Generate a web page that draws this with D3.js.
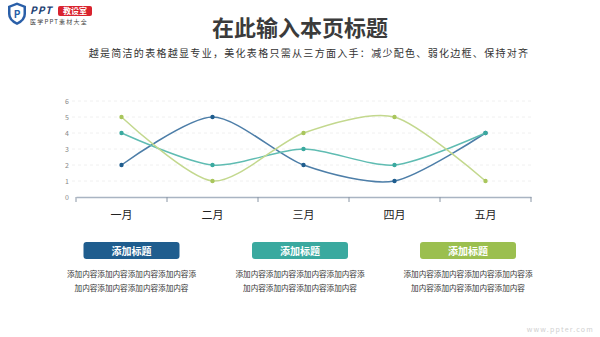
<!DOCTYPE html>
<html>
<head>
    <meta charset="utf-8">
    <title>在此输入本页标题</title>
    <script src="https://cdn.jsdelivr.net/npm/d3@7"></script>
    <style>
        body { margin: 0; background: #fff; }
        svg { font-family: "Noto Sans CJK SC", "Noto Sans", sans-serif; display: block; }
    </style>
</head>
<body>
<div class="chart-area"></div>
<script>
    // data
    var months = ['一月', '二月', '三月', '四月', '五月'];
    var seriesBlue = [2, 5, 2, 1, 4];
    var seriesTeal = [4, 2, 3, 2, 4];
    var seriesGreen = [5, 1, 4, 5, 1];
    var yTicks = [0, 1, 2, 3, 4, 5, 6];
    var cardTitles = ['添加标题', '添加标题', '添加标题'];
    var cardLine1 = '添加内容添加内容添加内容添加内容添';
    var cardLine2 = '加内容添加内容添加内容添加内容';
    var colors = ['#1f5d8e', '#3aa99f', '#9bbf4f'];
    var lineColors = ['#4d7ea8', '#5fbcb2', '#c3d88e'];
    var dotColors = ['#1f5d8e', '#3aa99f', '#a9c65c'];

    var W = 600, H = 337;
    var svg = d3.select('.chart-area').append('svg')
        .attr('width', W).attr('height', H);

    // logo
    var logo = svg.append('g');
    logo.append('path')
        .attr('d', 'M8,6 L17,2.5 L26,6 L26,14 Q26,21 17,25 Q8,21 8,14 Z')
        .attr('fill', '#2a5fa8');
    logo.append('path')
        .attr('d', 'M10.5,7.5 L17,5 L23.5,7.5 L23.5,14 Q23.5,19 17,22.3 Q10.5,19 10.5,14 Z')
        .attr('fill', '#fff');
    logo.append('text').attr('x', 17).attr('y', 18).attr('text-anchor', 'middle')
        .attr('font-size', 10).attr('font-weight', 'bold').attr('fill', '#2a5fa8').text('P');
    logo.append('text').attr('x', 30).attr('y', 14).attr('font-size', 10)
        .attr('font-weight', 'bold').attr('font-style', 'italic').attr('fill', '#1d3f73')
        .attr('letter-spacing', 1).text('PPT');
    logo.append('rect').attr('x', 58).attr('y', 6).attr('width', 34).attr('height', 10)
        .attr('rx', 2).attr('fill', '#d9232e');
    logo.append('text').attr('x', 75).attr('y', 14.3).attr('text-anchor', 'middle')
        .attr('font-size', 8).attr('font-weight', 'bold').attr('fill', '#fff').text('教设室');
    logo.append('text').attr('x', 30).attr('y', 24).attr('font-size', 6)
        .attr('fill', '#444').attr('letter-spacing', 1.2).text('医学PPT素材大全');

    // title
    svg.append('text').attr('x', 300).attr('y', 36).attr('text-anchor', 'middle')
        .attr('font-size', 22).attr('font-weight', 'bold').attr('fill', '#3b3b3b')
        .text('在此输入本页标题');
    svg.append('text').attr('x', 309).attr('y', 57).attr('text-anchor', 'middle')
        .attr('font-size', 10).attr('fill', '#333').attr('letter-spacing', 1.3)
        .text('越是简洁的表格越显专业，美化表格只需从三方面入手：减少配色、弱化边框、保持对齐');

    // chart
    var x = d3.scaleBand().domain(months).range([76, 531]);
    var y = d3.scaleLinear().domain([0, 6]).range([197, 101]);
    var g = svg.append('g');

    g.selectAll('.grid').data(yTicks.filter(function(d){ return d > 0; }))
        .enter().append('line')
        .attr('x1', 72).attr('x2', 531)
        .attr('y1', function(d){ return y(d); }).attr('y2', function(d){ return y(d); })
        .attr('stroke', '#f0f0f0').attr('stroke-dasharray', '3,3').attr('stroke-width', 1);

    g.selectAll('.ylab').data(yTicks).enter().append('text')
        .attr('x', 69).attr('y', function(d){ return y(d) + 3; })
        .attr('text-anchor', 'end').attr('font-size', 7).attr('fill', '#888')
        .text(function(d){ return d; });

    var xAxis = g.append('g').attr('transform', 'translate(0,197)')
        .call(d3.axisBottom(x).tickSize(0).tickFormat(''));
    xAxis.select('.domain').attr('stroke', '#a9b4c2').attr('stroke-width', 1.6);
    var bounds = months.map(function(m){ return x(m); }).concat([x.range()[1]]);
    xAxis.selectAll('.bound').data(bounds).enter().append('line')
        .attr('x1', function(d){ return d; }).attr('x2', function(d){ return d; })
        .attr('y1', 0).attr('y2', 5).attr('stroke', '#8a96a5').attr('stroke-width', 1);

    g.selectAll('.xlab').data(months).enter().append('text')
        .attr('x', function(d){ return x(d) + x.bandwidth() / 2; }).attr('y', 219)
        .attr('text-anchor', 'middle').attr('font-size', 11).attr('fill', '#222')
        .text(function(d){ return d; });

    var line = d3.line()
        .x(function(d, i){ return x(months[i]) + x.bandwidth() / 2; })
        .y(function(d){ return y(d); })
        .curve(d3.curveCardinal.tension(0.2));

    [seriesBlue, seriesTeal, seriesGreen].forEach(function(s, k) {
        g.append('path').datum(s).attr('d', line).attr('fill', 'none')
            .attr('stroke', lineColors[k]).attr('stroke-width', 1.5);
        g.selectAll('.dot' + k).data(s).enter().append('circle')
            .attr('cx', function(d, i){ return x(months[i]) + x.bandwidth() / 2; })
            .attr('cy', function(d){ return y(d); })
            .attr('r', 2.2).attr('fill', dotColors[k]);
    });

    // cards
    var cardX = [131.5, 300, 468];
    cardTitles.forEach(function(t, i) {
        var c = svg.append('g').attr('transform', 'translate(' + cardX[i] + ',0)');
        c.append('rect').attr('x', -48).attr('y', 242).attr('width', 96).attr('height', 17)
            .attr('rx', 3).attr('fill', colors[i]);
        c.append('text').attr('x', 0).attr('y', 254.5).attr('text-anchor', 'middle')
            .attr('font-size', 10).attr('font-weight', 'bold').attr('fill', '#fff').text(t);
        c.append('text').attr('x', 0).attr('y', 277).attr('text-anchor', 'middle')
            .attr('font-size', 7.6).attr('fill', '#333').text(cardLine1);
        c.append('text').attr('x', 0).attr('y', 291).attr('text-anchor', 'middle')
            .attr('font-size', 7.6).attr('fill', '#333').text(cardLine2);
    });

    svg.append('text').attr('x', 594).attr('y', 332).attr('text-anchor', 'end')
        .attr('font-size', 7).attr('fill', '#cfcfcf').attr('letter-spacing', 1.2)
        .text('www.ppter.com');
</script>
</body>
</html>
